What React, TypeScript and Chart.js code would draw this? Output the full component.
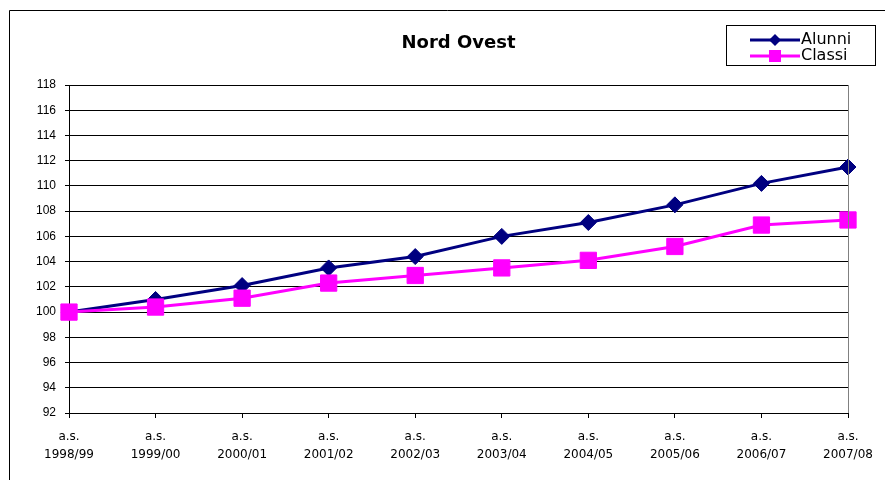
import React, { useEffect, useRef } from 'react';
import { Chart, registerables } from 'chart.js';

Chart.register(...registerables);

const titleText = 'Nord Ovest';
const categories: string[][] = [
  ['a.s.', '1998/99'],
  ['a.s.', '1999/00'],
  ['a.s.', '2000/01'],
  ['a.s.', '2001/02'],
  ['a.s.', '2002/03'],
  ['a.s.', '2003/04'],
  ['a.s.', '2004/05'],
  ['a.s.', '2005/06'],
  ['a.s.', '2006/07'],
  ['a.s.', '2007/08'],
];
const alunni = [100, 101.0, 102.1, 103.5, 104.4, 106.0, 107.1, 108.5, 110.2, 111.5];
const classi = [100, 100.4, 101.1, 102.3, 102.9, 103.5, 104.1, 105.2, 106.9, 107.3];
const yMin = 92;
const yMax = 118;
const yStep = 2;

const NAVY = '#000080';
const MAGENTA = '#FF00FF';

const decorPlugin = {
  id: 'decor',
  beforeDraw(chart: any) {
    const ctx = chart.ctx;
    ctx.save();
    ctx.fillStyle = '#ffffff';
    ctx.fillRect(0, 0, chart.width, chart.height);
    // outer frame
    ctx.strokeStyle = '#000000';
    ctx.lineWidth = 1;
    ctx.beginPath();
    ctx.moveTo(9.5, chart.height);
    ctx.lineTo(9.5, 10.5);
    ctx.lineTo(chart.width, 10.5);
    ctx.stroke();
    ctx.restore();
  },
  afterDraw(chart: any) {
    const ctx = chart.ctx;
    const area = chart.chartArea;
    ctx.save();
    // plot right border
    ctx.strokeStyle = '#808080';
    ctx.lineWidth = 1;
    ctx.beginPath();
    const rx = Math.round(area.right) + 0.5;
    ctx.moveTo(rx, area.top);
    ctx.lineTo(rx, area.bottom);
    ctx.stroke();
    // title
    ctx.fillStyle = '#000000';
    ctx.font = 'bold 18px "DejaVu Sans"';
    ctx.textAlign = 'center';
    ctx.textBaseline = 'alphabetic';
    ctx.fillText(titleText, (area.left + area.right) / 2, 48);
    // legend box
    const bx = 726.5, by = 25.5, bw = 149, bh = 40;
    ctx.strokeStyle = '#000000';
    ctx.strokeRect(bx, by, bw, bh);
    const items = chart.data.datasets;
    items.forEach((ds: any, i: number) => {
      const ly = 40 + i * 16;
      ctx.strokeStyle = ds.borderColor;
      ctx.lineWidth = 3;
      ctx.beginPath();
      ctx.moveTo(750, ly);
      ctx.lineTo(800, ly);
      ctx.stroke();
      ctx.fillStyle = ds.pointBackgroundColor;
      ctx.beginPath();
      if (ds.pointStyle === 'rectRot') {
        ctx.moveTo(775, ly - 6);
        ctx.lineTo(781, ly);
        ctx.lineTo(775, ly + 6);
        ctx.lineTo(769, ly);
        ctx.closePath();
      } else {
        ctx.rect(769, ly - 6, 12, 12);
      }
      ctx.fill();
      ctx.fillStyle = '#000000';
      ctx.font = '16px "DejaVu Sans"';
      ctx.textAlign = 'left';
      ctx.textBaseline = 'alphabetic';
      ctx.fillText(ds.label, 801, 43.5 + i * 16.5);
    });
    ctx.restore();
  },
};

export default function App() {
  const ref = useRef<HTMLCanvasElement | null>(null);
  useEffect(() => {
    document.body.style.margin = '0';
    const canvas = ref.current!;
    const chart = new Chart(canvas, {
      type: 'line',
      data: {
        labels: categories,
        datasets: [
          {
            label: 'Alunni',
            data: alunni,
            borderColor: NAVY,
            backgroundColor: NAVY,
            pointBackgroundColor: NAVY,
            pointBorderColor: NAVY,
            pointStyle: 'rectRot',
            pointRadius: 8,
            pointBorderWidth: 1,
            borderWidth: 3,
            tension: 0,
            order: 1,
          },
          {
            label: 'Classi',
            data: classi,
            borderColor: MAGENTA,
            backgroundColor: MAGENTA,
            pointBackgroundColor: MAGENTA,
            pointBorderColor: MAGENTA,
            pointStyle: 'rect',
            pointRadius: 11.5,
            pointBorderWidth: 1,
            borderWidth: 3,
            tension: 0,
            order: 0,
          },
        ],
      },
      options: {
        responsive: false,
        animation: false,
        devicePixelRatio: 1,
        layout: { padding: { top: 85, left: 0, right: 37, bottom: 0 } },
        plugins: {
          legend: { display: false },
          title: { display: false },
          tooltip: { enabled: false },
        },
        scales: {
          x: {
            offset: false,
            grid: {
              drawOnChartArea: false,
              drawTicks: true,
              tickLength: 5,
              color: '#000000',
            },
            border: { color: '#000000', width: 1 },
            ticks: {
              color: '#000000',
              font: { family: '"DejaVu Sans"', size: 12, lineHeight: 1.5 },
              padding: 10,
              maxRotation: 0,
              autoSkip: false,
            },
            afterFit(scale: any) {
              scale.height = 67;
            },
          },
          y: {
            min: yMin,
            max: yMax,
            grid: {
              color: '#000000',
              tickLength: 4,
              lineWidth: 1,
            },
            border: { color: '#000000', width: 1 },
            ticks: {
              stepSize: yStep,
              color: '#000000',
              font: { family: '"Liberation Sans", Arial', size: 12 },
              padding: 9,
            },
            afterFit(scale: any) {
              scale.width = 69;
            },
          },
        },
      },
      plugins: [decorPlugin],
    } as any);
    return () => chart.destroy();
  }, []);
  return (
    <div style={{ width: 885, height: 480 }}>
      <canvas ref={ref} width={885} height={480} style={{ display: 'block', width: 885, height: 480 }} />
    </div>
  );
}
